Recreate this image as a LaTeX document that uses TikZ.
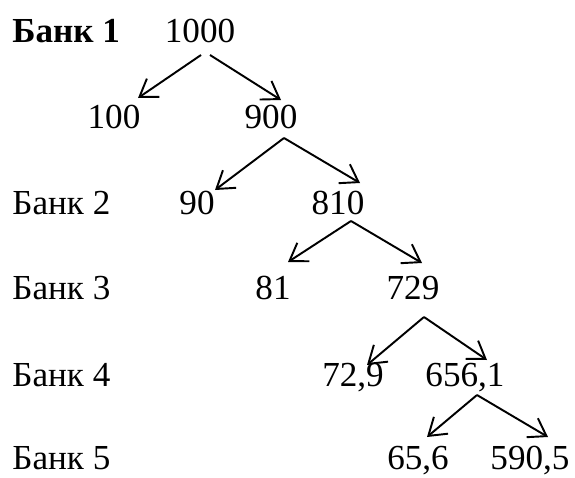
\documentclass[tikz,border=0pt]{standalone}
\usepackage{fontspec}
\setmainfont{Liberation Serif}
\usetikzlibrary{arrows.meta, calc}

\begin{document}
\begin{tikzpicture}[x=0.02cm, y=0.02cm]
        \tikzstyle{sum} = [inner sep=0pt, anchor=base, font=\fontsize{20}{24}\selectfont]
        \tikzstyle{bank} = [sum, anchor=base west]
        \tikzstyle{arrow} = [-{Straight Barb[length=0.33cm, width=0.44cm]}, line width=1.1pt]

        \useasboundingbox (0,0) rectangle (575,-477);

        % Banks
        \node (bank1) [bank, font=\fontsize{20}{24}\selectfont\bfseries] at (12,-42) {Банк 1};
        \node (bank2) [bank] at (12,-214) {Банк 2};
        \node (bank3) [bank] at (12,-299) {Банк 3};
        \node (bank4) [bank] at (12,-386) {Банк 4};
        \node (bank5) [bank] at (12,-469) {Банк 5};

        % Sums
        \node (s1000) [sum] at (200,-42) {1000};
        \node (s100) [sum] at (114,-128) {100};
        \node (s900) [sum] at (271,-128) {900};
        \node (s90) [sum] at (197,-214) {90};
        \node (s810) [sum] at (338,-214) {810};
        \node (s81) [sum] at (273,-299) {81};
        \node (s729) [sum] at (413,-299) {729};
        \node (s729a) [sum] at (353,-386) {72,9};
        \node (s6561) [sum] at (465,-386) {656,1};
        \node (s656) [sum] at (418,-469) {65,6};
        \node (s5905) [sum] at (530,-469) {590,5};

        % Arrows
        \draw [arrow] ([shift={(1,-13)}]s1000.base) -- ([shift={(24,30)}]s100.base);
        \draw [arrow] ([shift={(10,-13)}]s1000.base) -- ([shift={(10,28)}]s900.base);
        \draw [arrow] ([shift={(13,-10)}]s900.base) -- ([shift={(18,24)}]s90.base);
        \draw [arrow] ([shift={(13,-10)}]s900.base) -- ([shift={(22,31)}]s810.base);
        \draw [arrow] ([shift={(13,-7)}]s810.base) -- ([shift={(15,37)}]s81.base);
        \draw [arrow] ([shift={(13,-7)}]s810.base) -- ([shift={(9,36)}]s729.base);
        \draw [arrow] ([shift={(11,-18)}]s729.base) -- ([shift={(14,21)}]s729a.base);
        \draw [arrow] ([shift={(11,-18)}]s729.base) -- ([shift={(22,26)}]s6561.base);
        \draw [arrow] ([shift={(12,-9)}]s6561.base) -- ([shift={(9,32)}]s656.base);
        \draw [arrow] ([shift={(12,-9)}]s6561.base) -- ([shift={(18,32)}]s5905.base);
    \end{tikzpicture}
\end{document}
